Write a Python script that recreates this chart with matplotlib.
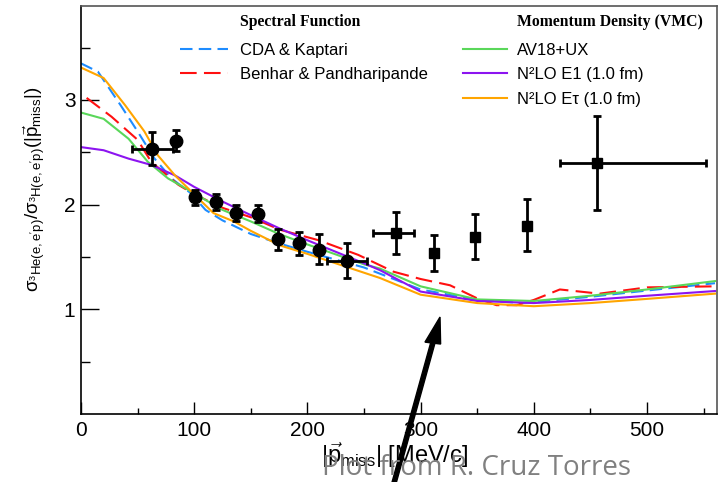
import numpy as np
import matplotlib
matplotlib.use('Agg')
import matplotlib.pyplot as plt

plt.rcParams['font.family'] = ['Liberation Sans', 'DejaVu Sans']
plt.rcParams['mathtext.fontset'] = 'custom'
plt.rcParams['mathtext.rm'] = 'Liberation Sans'
plt.rcParams['mathtext.it'] = 'Liberation Sans'
plt.rcParams['mathtext.bf'] = 'Liberation Sans:bold'

# ---- measured ratios ----
# low-pmiss points (circles)
circ_x = [63, 84, 101, 119, 137, 156, 174, 193, 210, 235]
circ_y = [2.53, 2.61, 2.07, 2.03, 1.92, 1.91, 1.67, 1.63, 1.57, 1.46]
circ_yerr_lo = [0.15, 0.10, 0.07, 0.08, 0.08, 0.08, 0.10, 0.11, 0.14, 0.16]
circ_yerr_hi = [0.16, 0.10, 0.07, 0.07, 0.08, 0.09, 0.10, 0.11, 0.15, 0.17]
circ_xerr = [18, 0, 0, 0, 0, 0, 0, 0, 0, 18]

# high-pmiss points (squares)
sq_x = [278, 312, 348, 394, 456]
sq_y = [1.73, 1.54, 1.69, 1.80, 2.40]
sq_yerr_lo = [0.20, 0.17, 0.21, 0.24, 0.45]
sq_yerr_hi = [0.20, 0.17, 0.22, 0.25, 0.45]
sq_xerr_lo = [20, 0, 0, 0, 33]
sq_xerr_hi = [16, 0, 0, 0, 96]

# ---- calculations ----
cda_x = [0, 15, 35, 50, 65, 80, 97, 110, 125, 150, 175, 200, 250, 300, 350, 390, 450, 500, 560]
cda_y = [3.35, 3.27, 2.95, 2.70, 2.44, 2.25, 2.11, 1.95, 1.85, 1.72, 1.63, 1.55, 1.40, 1.19, 1.09, 1.06, 1.12, 1.18, 1.25]

benhar_x = [5, 27, 50, 62, 74, 86, 100, 125, 150, 176, 210, 245, 276, 300, 326, 350, 367, 385, 400, 423, 458, 500, 560]
benhar_y = [3.02, 2.84, 2.62, 2.41, 2.30, 2.19, 2.10, 1.97, 1.88, 1.76, 1.66, 1.52, 1.36, 1.29, 1.23, 1.105, 1.04, 1.04, 1.09, 1.19, 1.15, 1.21, 1.22]

av18_x = [0, 20, 42, 59, 77, 95, 125, 150, 175, 200, 250, 264, 300, 350, 400, 450, 500, 560]
av18_y = [2.88, 2.82, 2.63, 2.41, 2.25, 2.14, 1.95, 1.84, 1.72, 1.62, 1.43, 1.39, 1.22, 1.095, 1.08, 1.13, 1.19, 1.27]

e1_x = [0, 20, 42, 62, 83, 100, 125, 150, 176, 200, 250, 264, 300, 350, 400, 450, 500, 560]
e1_y = [2.55, 2.52, 2.44, 2.38, 2.28, 2.17, 2.03, 1.90, 1.77, 1.66, 1.44, 1.375, 1.17, 1.08, 1.06, 1.09, 1.13, 1.175]

etau_x = [0, 20, 39, 56, 68, 83, 98, 117, 135, 150, 176, 200, 250, 264, 300, 350, 400, 450, 500, 560]
etau_y = [3.31, 3.21, 2.95, 2.70, 2.47, 2.28, 2.12, 1.92, 1.84, 1.75, 1.61, 1.53, 1.35, 1.30, 1.14, 1.06, 1.03, 1.06, 1.10, 1.15]

blue = '#1e8cff'
red = '#ff1010'
green = '#5ad75a'
purple = '#8c14f0'
orange = '#ffa500'

fig = plt.figure(figsize=(7.23, 4.82), dpi=100)
ax = fig.add_axes([0.112, 0.141, 0.880, 0.847])

l_cda, = ax.plot(cda_x, cda_y, color=blue, lw=1.5, dashes=(6, 3), label='CDA & Kaptari')
l_ben, = ax.plot(benhar_x, benhar_y, color=red, lw=1.5, dashes=(8, 3.5), label='Benhar & Pandharipande')
l_av, = ax.plot(av18_x, av18_y, color=green, lw=1.5, label='AV18+UX')
l_e1, = ax.plot(e1_x, e1_y, color=purple, lw=1.5, label='N\u00b2LO E1 (1.0 fm)')
l_et, = ax.plot(etau_x, etau_y, color=orange, lw=1.5, label='N\u00b2LO E\u03c4 (1.0 fm)')

ax.errorbar(circ_x, circ_y, yerr=[circ_yerr_lo, circ_yerr_hi], xerr=circ_xerr,
            fmt='o', color='black', ms=9, elinewidth=2, capsize=3, capthick=2, zorder=5)
ax.errorbar(sq_x, sq_y, yerr=[sq_yerr_lo, sq_yerr_hi], xerr=[sq_xerr_lo, sq_xerr_hi],
            fmt='s', color='black', ms=7.5, elinewidth=2, capsize=3, capthick=2, zorder=5)

ax.set_xlim(0, 562)
ax.set_ylim(0, 3.9)
ax.set_xticks([0, 100, 200, 300, 400, 500])
ax.set_xticks(np.arange(50, 562, 100), minor=True)
ax.set_yticks([1, 2, 3])
ax.set_yticks([0.5, 1.5, 2.5, 3.5], minor=True)
ax.tick_params(axis='both', which='both', direction='in', top=False, right=False,
               labelsize=15, width=1)
ax.tick_params(axis='y', which='major', length=13, pad=4)
ax.tick_params(axis='y', which='minor', length=6.5)
ax.tick_params(axis='x', which='major', length=8.6, pad=5)
ax.tick_params(axis='x', which='minor', length=4.3)
for s in ax.spines.values():
    s.set_linewidth(1.2)
for s in ('top', 'right'):
    ax.spines[s].set_color('#555555')

ax.set_ylabel(r"$\sigma_{^{3}\mathrm{He(e,e'p)}}/\sigma_{^{3}\mathrm{H(e,e'p)}}(|\vec{\mathrm{p}}_{\mathrm{miss}}|)$",
              fontsize=13.5)
ax.yaxis.set_label_coords(-0.052, 0.55)
ax.set_xlabel(r'$|\vec{\mathrm{p}}_{\mathrm{miss}}|$ [MeV/c]', fontsize=17, ha='right')
ax.xaxis.set_label_coords(0.608, -0.064)

# two-column legend with serif headers
leg1 = ax.legend(handles=[l_cda, l_ben], loc='upper left', bbox_to_anchor=(0.155, 0.910),
                 frameon=False, fontsize=12, handlelength=2.9, handletextpad=0.72,
                 labelspacing=0.57, borderpad=0, borderaxespad=0)
ax.add_artist(leg1)
ax.legend(handles=[l_av, l_e1, l_et], loc='upper left', bbox_to_anchor=(0.601, 0.910),
          frameon=False, fontsize=12, handlelength=2.63, handletextpad=0.6,
          labelspacing=0.57, borderpad=0, borderaxespad=0)
ax.text(0.2496, 0.961, 'Spectral Function', transform=ax.transAxes, ha='left', va='center',
        family='Liberation Serif', weight='bold', fontsize=11.3)
ax.text(0.686, 0.961, 'Momentum Density (VMC)', transform=ax.transAxes, ha='left', va='center',
        family='Liberation Serif', weight='bold', fontsize=11.3)

fig.text(0.445, 0.0145, 'Plot from R. Cruz Torres', color='#808080', fontsize=20,
         family='Open Sans', ha='left', va='baseline')

fig.patches.append(matplotlib.patches.FancyArrow(
    0.5435, -0.01, 0.0651, 0.3523, width=0.006, head_width=0.022, head_length=0.055,
    length_includes_head=True, color='black', transform=fig.transFigure, figure=fig))

fig.savefig('out.png', dpi=100)
